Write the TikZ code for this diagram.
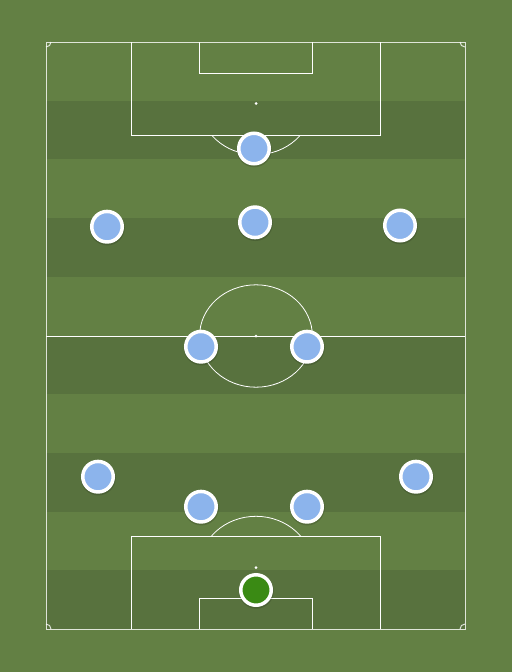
\documentclass[tikz,border=0pt]{standalone}
\definecolor{grassL}{RGB}{99,128,68}
\definecolor{grassD}{RGB}{88,114,62}
\definecolor{plblue}{RGB}{140,180,236}
\definecolor{plgreen}{RGB}{58,138,20}
\tikzset{
  fieldline/.style={draw=white, line width=1pt},
  outerline/.style={draw=white, draw opacity=0.8, line width=1pt},
  player/.style={circle, minimum size=30.5pt, inner sep=0pt, fill=plblue, draw=white, line width=3.5pt},
  keeper/.style={player, fill=plgreen},
}
\newcommand{\shadowat}[2]{\fill[black, opacity=0.15] (#1+0.3,#2+1.2) circle (17.5);}
\begin{document}
\begin{tikzpicture}[x=1pt,y=-1pt]
\useasboundingbox (0,0) rectangle (512,672);
\fill[grassL] (0,0) rectangle (512,672);
% stripes
\foreach \i in {1,3,5,7,9}{
  \fill[grassD] (46,42+\i*58.7) rectangle (465,42+\i*58.7+58.7);
}
% outer lines
\draw[outerline] (46,42) rectangle (465,629);
\draw[fieldline] (46,336) -- (465,336);
% corner arcs
\draw[outerline] (46,47) arc[start angle=90,end angle=0,radius=5];
\draw[outerline] (460,42) arc[start angle=180,end angle=90,radius=5];
\draw[outerline] (46,624) arc[start angle=-90,end angle=0,radius=5];
\draw[outerline] (460,629) arc[start angle=180,end angle=270,radius=5];
% penalty areas
\draw[fieldline] (131,42) -- (131,135) -- (380,135) -- (380,42);
\draw[fieldline] (199,42) -- (199,73) -- (312,73) -- (312,42);
\draw[fieldline] (131,629) -- (131,536) -- (380,536) -- (380,629);
\draw[fieldline] (199,629) -- (199,598) -- (312,598) -- (312,629);
% arcs
\begin{scope}
\clip (100,135.5) rectangle (412,200);
\draw[fieldline, line width=0.8pt] (256,103.5) ellipse[x radius=56.4, y radius=51.2];
\end{scope}
\begin{scope}
\clip (100,535.5) rectangle (412,470);
\draw[fieldline, line width=0.8pt] (256,567.5) ellipse[x radius=56.4, y radius=51.2];
\end{scope}
% centre circle
\draw[fieldline, line width=0.8pt] (256,336) ellipse[x radius=56.4, y radius=51.2];
% spots
\fill[white] (256,336) circle (1.5);
\fill[white] (256,103.5) circle (1.5);
\fill[white] (256,567.5) circle (1.5);
% shadows
\shadowat{254}{148.5}
\shadowat{107}{226.7}
\shadowat{255}{222.3}
\shadowat{400}{225.5}
\shadowat{201}{346.7}
\shadowat{307}{346.7}
\shadowat{98}{476.7}
\shadowat{416}{476.7}
\shadowat{201}{506.7}
\shadowat{307}{506.7}
\shadowat{256}{590}
% players
\node[player] (st) at (254,148.5) {};
\node[player] (lw) at (107,226.7) {};
\node[player] (cam) at (255,222.3) {};
\node[player] (rw) at (400,225.5) {};
\node[player] (lcm) at (201,346.7) {};
\node[player] (rcm) at (307,346.7) {};
\node[player] (lb) at (98,476.7) {};
\node[player] (rb) at (416,476.7) {};
\node[player] (lcb) at (201,506.7) {};
\node[player] (rcb) at (307,506.7) {};
\node[keeper] (gk) at (256,590) {};
\end{tikzpicture}
\end{document}
